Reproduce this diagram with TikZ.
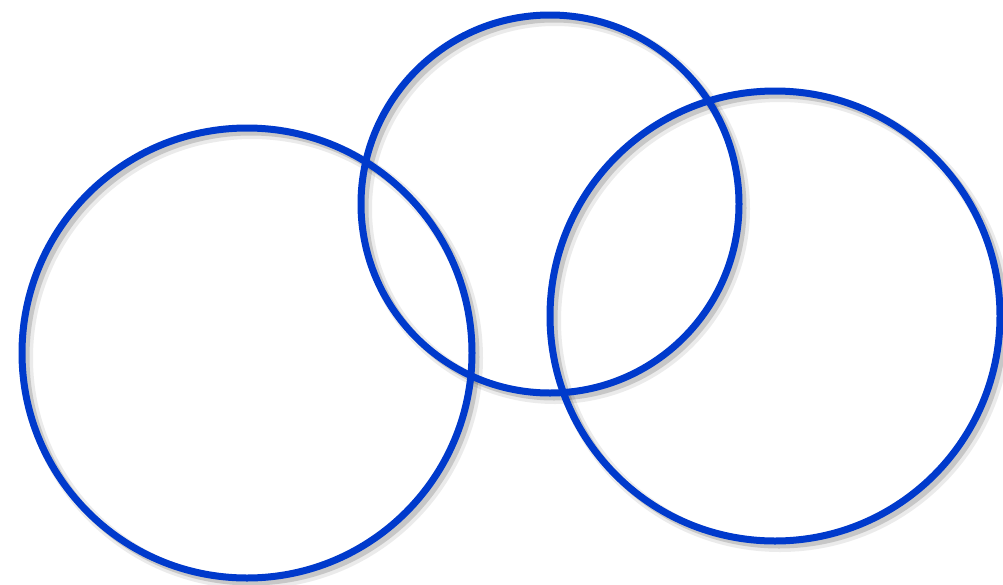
\documentclass[tikz,border=0pt]{standalone}
\definecolor{ringblue}{RGB}{0,58,204}
\begin{document}
\begin{tikzpicture}[x=1pt,y=-1pt,
  ring/.style={circle, draw=ringblue, line width=7pt, inner sep=0pt, outer sep=0pt},
  shade1/.style={circle, draw=black, draw opacity=0.08, line width=12pt, inner sep=0pt},
  shade2/.style={circle, draw=black, draw opacity=0.15, line width=7pt, inner sep=0pt}]
\useasboundingbox (0,0) rectangle (1003,584);
\fill[white] (0,0) rectangle (1003,584);
% shadows
\foreach \cx/\cy/\r in {247/353/225, 550/204/189, 775/316/225}{
  \node[shade1, minimum size=2*\r] at (\cx+5,\cy+5) {};
  \node[shade2, minimum size=2*\r] at (\cx+4,\cy+4) {};
}
% rings
\node[ring, minimum size=450] (left) at (247,353) {};
\node[ring, minimum size=378] (middle) at (550,204) {};
\node[ring, minimum size=450] (right) at (775,316) {};
\end{tikzpicture}
\end{document}
